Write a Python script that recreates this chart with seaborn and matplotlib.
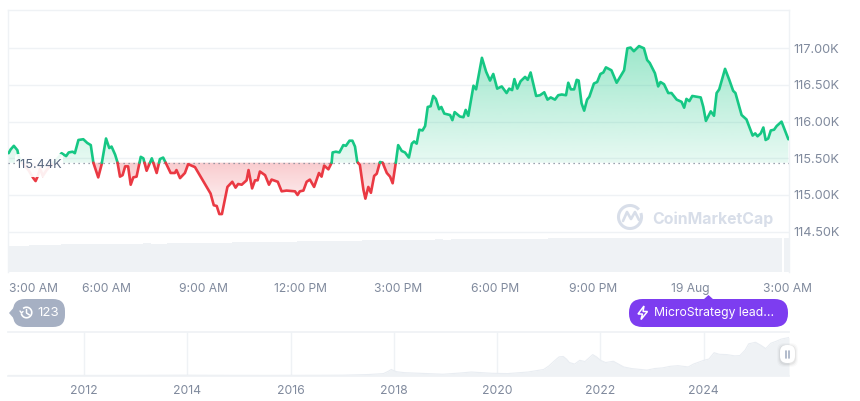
import numpy as np
import matplotlib
matplotlib.use("Agg")
import matplotlib.pyplot as plt
from matplotlib.patches import FancyBboxPatch, Circle, Polygon, Arc
import seaborn as sns

hours = [3.00,3.06,3.16,3.27,3.31,3.43,3.61,3.76,3.83,3.89,3.97,4.05,4.17,4.38,4.53,4.63,4.77,4.85,4.97,5.04,5.15,5.30,5.42,5.53,5.61,5.76,5.86,6.00,6.10,6.17,6.28,6.35,6.43,6.51,6.59,6.68,6.76,6.84,6.94,7.07,7.15,7.25,7.41,7.56,7.66,7.76,7.87,7.99,8.12,8.17,8.28,8.43,8.53,8.74,8.94,9.22,9.32,9.41,9.49,9.57,9.74,9.89,9.99,10.07,10.18,10.33,10.39,10.50,10.59,10.67,10.74,10.90,11.02,11.10,11.29,11.41,11.56,11.82,11.90,11.97,
         12.08,12.18,12.28,12.41,12.56,12.64,12.72,12.85,12.95,12.98,13.08,13.19,13.31,13.39,13.50,13.59,13.67,13.74,13.82,13.93,13.99,14.08,14.16,14.26,14.34,14.44,14.52,14.65,14.75,14.83,14.93,15.00,15.11,15.21,15.33,15.42,15.49,15.57,15.65,15.75,15.83,15.91,16.00,16.08,16.16,16.26,16.33,16.42,16.60,16.67,16.74,16.90,17.01,17.08,17.16,17.32,17.40,17.58,17.71,17.83,17.93,18.05,18.19,18.34,18.42,18.51,18.58,18.67,18.77,18.91,18.99,19.08,19.16,19.25,19.37,19.50,19.60,19.70,19.83,19.93,20.04,20.17,20.24,20.32,20.42,20.50,20.56,
         20.65,20.73,20.82,20.89,21.03,21.13,21.23,21.32,21.40,21.57,21.73,21.96,22.06,22.16,22.26,22.42,22.57,22.67,22.75,22.91,23.01,23.08,23.19,23.32,23.42,23.58,23.73,23.81,23.88,23.97,24.06,24.32,24.40,24.48,24.63,24.73,24.81,24.89,25.07,25.20,25.32,25.39,25.58,25.73,25.92,26.00,26.07,26.17,26.25,26.32,26.40,26.48,26.58,26.66,26.81,27.02]
prices = [115.57,115.62,115.67,115.61,115.52,115.43,115.34,115.23,115.19,115.25,115.36,115.26,115.34,115.44,115.51,115.57,115.53,115.58,115.59,115.57,115.75,115.76,115.71,115.68,115.44,115.24,115.41,115.77,115.64,115.66,115.55,115.45,115.25,115.27,115.39,115.39,115.14,115.24,115.25,115.52,115.50,115.33,115.50,115.30,115.49,115.51,115.41,115.30,115.30,115.34,115.23,115.30,115.42,115.38,115.23,115.02,114.86,114.85,114.74,114.74,115.11,115.18,115.10,115.15,115.14,115.20,115.34,115.09,115.20,115.20,115.32,115.27,115.14,115.21,115.18,115.05,115.06,115.05,115.00,115.05,
          115.06,115.18,115.21,115.11,115.30,115.25,115.40,115.35,115.44,115.58,115.59,115.58,115.68,115.67,115.74,115.74,115.66,115.45,115.41,115.07,114.95,115.11,115.03,115.26,115.29,115.45,115.44,115.30,115.25,115.16,115.45,115.68,115.60,115.58,115.51,115.70,115.73,115.70,115.89,115.88,115.94,116.20,116.21,116.35,116.31,116.17,116.20,116.11,116.09,116.02,116.13,116.07,116.06,116.16,116.08,116.49,116.44,116.87,116.68,116.56,116.65,116.45,116.48,116.39,116.45,116.43,116.58,116.45,116.55,116.61,116.57,116.67,116.52,116.35,116.36,116.40,116.30,116.33,116.30,116.36,116.37,116.36,116.53,116.44,116.44,116.57,116.56,
          116.25,116.15,116.30,116.34,116.52,116.54,116.65,116.67,116.74,116.70,116.53,116.70,117.00,117.01,116.96,117.03,117.00,116.84,116.80,116.66,116.48,116.54,116.51,116.39,116.39,116.30,116.27,116.19,116.31,116.28,116.35,116.33,116.20,116.01,116.14,116.08,116.39,116.44,116.72,116.57,116.42,116.39,116.09,116.03,115.81,115.84,115.80,115.84,115.92,115.75,115.77,115.88,115.89,115.94,116.00,115.76]
baseline_price = 115.44

volumes = [2.65,2.65,2.64,2.66,2.72,2.72,2.70,2.78,2.79,2.78,2.80,2.79,2.80,2.81,2.80,2.82,2.84,2.86,2.85,2.84,2.86,2.88,2.90,2.92,2.92,2.91,2.94,2.95,2.96,2.97,2.98,2.99,3.00,3.02,3.03,3.04,3.06,3.08,3.10,3.14,3.13,3.12,3.14,3.15,3.17,3.16,3.18,3.20,3.22,3.20,3.21,3.23,3.24,3.26,3.25,3.27,3.28,3.27,3.29,3.30,3.31,3.30,3.32,3.33,3.34,3.35,3.34,3.36,3.37,3.36,3.38,3.37,3.36,3.38,3.39,3.40,3.38,3.40,3.41,3.40,3.42,3.41,3.40,3.42,3.43,3.42,3.41,3.42,3.43,3.44,3.43,3.42,3.44,3.43,3.42,3.40,3.45]

y_ticks = [114.5,115.0,115.5,116.0,116.5,117.0]
y_tick_labels = ["114.50K","115.00K","115.50K","116.00K","116.50K","117.00K"]
x_ticks = [3,6,9,12,15,18,21,24,27]
x_tick_labels = ["3:00 AM","6:00 AM","9:00 AM","12:00 PM","3:00 PM","6:00 PM","9:00 PM","19 Aug","3:00 AM"]

nav_years = [2010.53,2011.4,2012.5,2013.2,2013.9,2014.5,2015.5,2016.5,2017.0,2017.5,2017.8,2017.9,2017.95,2018.05,2018.2,2018.5,2018.95,2019.3,2019.5,2019.7,2019.9,2020.2,2020.6,2020.9,2021.0,2021.1,2021.2,2021.28,2021.34,2021.4,2021.5,2021.6,2021.7,2021.85,2021.93,2022.0,2022.1,2022.25,2022.35,2022.45,2022.6,2022.9,2023.05,2023.2,2023.35,2023.5,2023.7,2023.8,2024.0,2024.1,2024.2,2024.3,2024.45,2024.6,2024.7,2024.8,2024.87,2025.0,2025.1,2025.2,2025.3,2025.4,2025.5,2025.65]
nav_prices = [0.1,0.2,0.3,0.5,1.0,0.6,0.3,0.6,1,3,6,14,19,12,9,7,4,8,11,9,7,6,11,19,30,45,59,60,52,41,36,48,44,66,58,48,41,45,36,27,22,17,22,24,29,31,27,36,48,52,72,67,66,62,63,80,100,105,96,85,102,108,115,120]
nav_ticks = [2012,2014,2016,2018,2020,2022,2024]

GREEN = "#16c784"; RED = "#ea3943"; GRID = "#eff2f5"; TXT = "#808a9d"; VOL = "#eff2f5"

sns.set_theme(style="white")
plt.rcParams["font.family"] = ["Inter", "DejaVu Sans"]
W, H = 860, 401
fig = plt.figure(figsize=(W/100, H/100), dpi=100)
def rect(x0, y0, x1, y1):
    return [x0/W, 1-y1/H, (x1-x0)/W, (y1-y0)/H]

# volume (behind)
axv = fig.add_axes(rect(8, 10, 789, 272))
vol_hours = 3 + np.arange(len(volumes))*0.25
sns.barplot(x=vol_hours, y=volumes, native_scale=True, color=VOL, saturation=1, width=1.0, ax=axv)
for b in axv.patches:
    b.set_linewidth(0)
axv.patches[-2].set_width(axv.patches[-2].get_width()*0.8)
axv.set_xlim(2.98, 27.04); axv.set_ylim(0, 26.2)
axv.axis("off")

# price
ax = fig.add_axes(rect(8, 10, 789, 272))
ax.patch.set_alpha(0)
h = np.array(hours); p = np.array(prices)
hx = [h[0]]; px = [p[0]]
for i in range(1, len(h)):
    a, b = p[i-1]-baseline_price, p[i]-baseline_price
    if a*b < 0:
        hx.append(h[i-1] + (h[i]-h[i-1])*a/(a-b)); px.append(baseline_price)
    hx.append(h[i]); px.append(p[i])
hx = np.array(hx); px = np.array(px)
xlim = (2.98, 27.04); ylim = (113.95, 117.522)

def grad(color, top, bottom, a_top, a_bot, ys):
    poly = ax.fill_between(hx, baseline_price, ys, color="none", lw=0)
    rgb = matplotlib.colors.to_rgb(color)
    img = np.zeros((256, 1, 4)); img[..., :3] = rgb
    img[..., 3] = np.linspace(a_top, a_bot, 256)[:, None]
    im = ax.imshow(img, extent=(xlim[0], xlim[1], bottom, top), aspect="auto", origin="upper", zorder=1)
    im.set_clip_path(poly.get_paths()[0], transform=ax.transData)

grad(GREEN, 117.03, baseline_price, 0.42, 0.10, np.maximum(px, baseline_price))
grad(RED, baseline_price, 114.74, 0.26, 0.04, np.minimum(px, baseline_price))

# split line in runs by side of the baseline
start = 0
for i in range(1, len(hx)+1):
    if i == len(hx) or (px[i] != baseline_price and (px[i] > baseline_price) != (px[start+1 if start+1 < len(hx) else start] > baseline_price) and px[i-1] == baseline_price):
        col = GREEN if np.mean(px[start:i]) >= baseline_price else RED
        sns.lineplot(x=hx[start:i], y=px[start:i], color=col, lw=1.9, sort=False, estimator=None, errorbar=None, ax=ax, zorder=4)
        start = i-1

ax.axhline(baseline_price, color="#7d8596", lw=0.9, ls=(0, (1, 3)), zorder=3)
ax.set_xlim(*xlim); ax.set_ylim(*ylim)
ax.yaxis.tick_right()
ax.set_yticks(y_ticks, y_tick_labels)
ax.set_xticks(x_ticks, x_tick_labels)
ax.tick_params(axis="y", length=0, pad=3, labelsize=9.2, labelcolor=TXT)
ax.tick_params(axis="x", length=0, pad=8, labelsize=8.7, labelcolor=TXT)
ax.get_xticklabels()[0].set_ha("left")
ax.grid(axis="y", color=GRID, lw=1); ax.set_axisbelow(True)
ax.spines["bottom"].set_visible(False)
for s in ("top", "left", "right"):
    ax.spines[s].set_color(GRID); ax.spines[s].set_linewidth(1)

# navigator
axn = fig.add_axes(rect(8, 331.5, 789, 375.5))
axn.patch.set_alpha(0)
sns.lineplot(x=nav_years, y=nav_prices, color="#e9edf2", lw=0.8, estimator=None, errorbar=None, ax=axn)
axn.fill_between(nav_years, 0, nav_prices, color=VOL, lw=0)
axn.set_xlim(2010.53, 2025.65); axn.set_ylim(0, 139)
axn.set_yticks([]); axn.set_xticks(nav_ticks, [str(t) for t in nav_ticks])
axn.tick_params(axis="x", length=0, pad=7, labelsize=8.8, labelcolor=TXT)
axn.grid(axis="x", color=GRID, lw=1); axn.set_axisbelow(True)
axn.spines["left"].set_visible(False); axn.spines["right"].set_visible(False)
axn.spines["top"].set_color(GRID); axn.spines["bottom"].set_color(GRID)

# overlay in pixels for labels and badges
ov = fig.add_axes([0, 0, 1, 1]); ov.set_xlim(0, W); ov.set_ylim(H, 0); ov.axis("off")
ov.add_patch(FancyBboxPatch((15, 154), 48, 23, boxstyle="round,pad=0,rounding_size=3", fc="white", ec="none", alpha=0.92))
ov.text(15.5, 165, "115.44K", color="#58667e", fontsize=9.2, va="center", ha="left")

# logo and watermark
LOGO = "#d8dee9"
ov.add_patch(Arc((630, 217), 23, 23, theta1=-20, theta2=320, color=LOGO, lw=2.2))
ov.plot([623, 627, 631, 635, 639], [221, 212, 219, 212, 220], color=LOGO, lw=1.9, solid_capstyle="round")
ov.text(652, 219.5, "CoinMarketCap", color=LOGO, fontsize=11.4, fontweight="bold", va="center", ha="left")

# history badge
BAD = "#a6b0c3"
ov.add_patch(FancyBboxPatch((13, 299), 52, 28, boxstyle="round,pad=0,rounding_size=12", fc=BAD, ec="none"))
ov.add_patch(Polygon([[9, 313], [16, 305], [16, 321]], fc=BAD, ec="none"))
ov.add_patch(Arc((26.5, 312.5), 10.5, 10.5, theta1=-130, theta2=170, color="white", lw=1.2))
ov.plot([26.5, 26.5, 29.5], [309.5, 313, 315], color="white", lw=1.1)
ov.plot([20, 21.5, 23], [311, 313, 311.5], color="white", lw=1.0)
ov.text(37.5, 312.8, "123", color="white", fontsize=9.6, va="center", ha="left")

# news badge
PUR = "#7d3df0"
ov.add_patch(FancyBboxPatch((629, 299), 159, 28, boxstyle="round,pad=0,rounding_size=13.5", fc=PUR, ec="none"))
ov.add_patch(Polygon([[703, 300], [708.5, 295], [714, 300]], fc=PUR, ec="none"))
ov.add_patch(Polygon([[644, 306], [638, 314], [642.5, 314], [641, 319.5], [647.5, 311.5], [643, 311.5]], fc="none", ec="white", lw=1.1))
ov.text(653.5, 312.8, "MicroStrategy lead...", color="white", fontsize=8.75, va="center", ha="left")

# range handle
for off, al in ((3, .02), (2, .03), (1, .05)):
    ov.add_patch(FancyBboxPatch((780-off, 345-off+1), 15+2*off, 18+2*off, boxstyle="round,pad=0,rounding_size=7", fc="black", ec="none", alpha=al))
ov.add_patch(FancyBboxPatch((780, 345), 15, 18, boxstyle="round,pad=0,rounding_size=7", fc="white", ec="none"))
ov.plot([786, 786], [351, 358], color="#a6b0c3", lw=1.2)
ov.plot([789, 789], [351, 358], color="#a6b0c3", lw=1.2)

fig.savefig("out.png", dpi=100)
